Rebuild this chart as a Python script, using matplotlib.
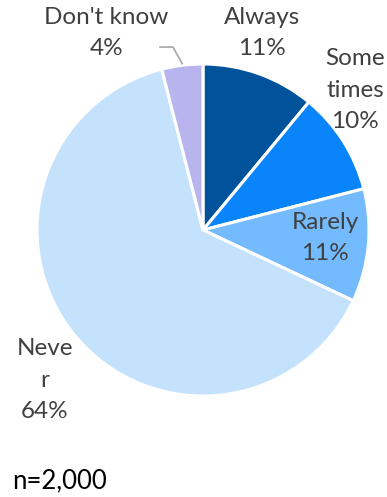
import matplotlib.pyplot as plt
import numpy as np

labels = ["Always", "Some\ntimes", "Rarely", "Neve\nr", "Don't know"]
values = [11, 10, 11, 64, 4]
colors = ["#00539b", "#0a84fb", "#73baff", "#c5e2fd", "#b8b4ee"]

# label spots (data units, pie radius = 1)
label_pos = [(0.355, 1.186), (0.916, 0.843), (0.735, -0.048), (-0.952, -0.904), (-0.584, 1.187)]

plt.rcParams['font.family'] = ['Lato', 'DejaVu Sans']

fig = plt.figure(figsize=(3.87, 4.97), dpi=100)
W, H = 387, 497
cx, cy, r = 203, 230, 166
ax = fig.add_axes([(cx - r) / W, (H - cy - r) / H, 2 * r / W, 2 * r / H])
ax.pie(values, colors=colors, startangle=90, counterclock=False, radius=1,
       wedgeprops=dict(edgecolor="white", linewidth=2.2))
ax.set_xlim(-1, 1)
ax.set_ylim(-1, 1)
ax.set_aspect("equal")
ax.axis("off")

for lab, v, (x, y) in zip(labels, values, label_pos):
    ax.text(x, y, f"{lab}\n{v}%", ha="center", va="center", fontsize=17.5,
            color="#404040", linespacing=1.6, clip_on=False)

# leader line to the small slice
cum = np.cumsum(values)
mid = 90 - (cum[-1] - values[-1] / 2) / cum[-1] * 360
ex, ey = np.cos(np.radians(mid)), np.sin(np.radians(mid))
ax.plot([-0.259, -0.181, ex], [1.102, 1.102, ey + 0.01], color="#a6a6a6",
        lw=1.2, clip_on=False)

fig.text(12 / W, (H - 488) / H, "n=2,000", fontsize=18.5, color="black",
         ha="left", va="baseline")

fig.savefig("out.png", dpi=100)
